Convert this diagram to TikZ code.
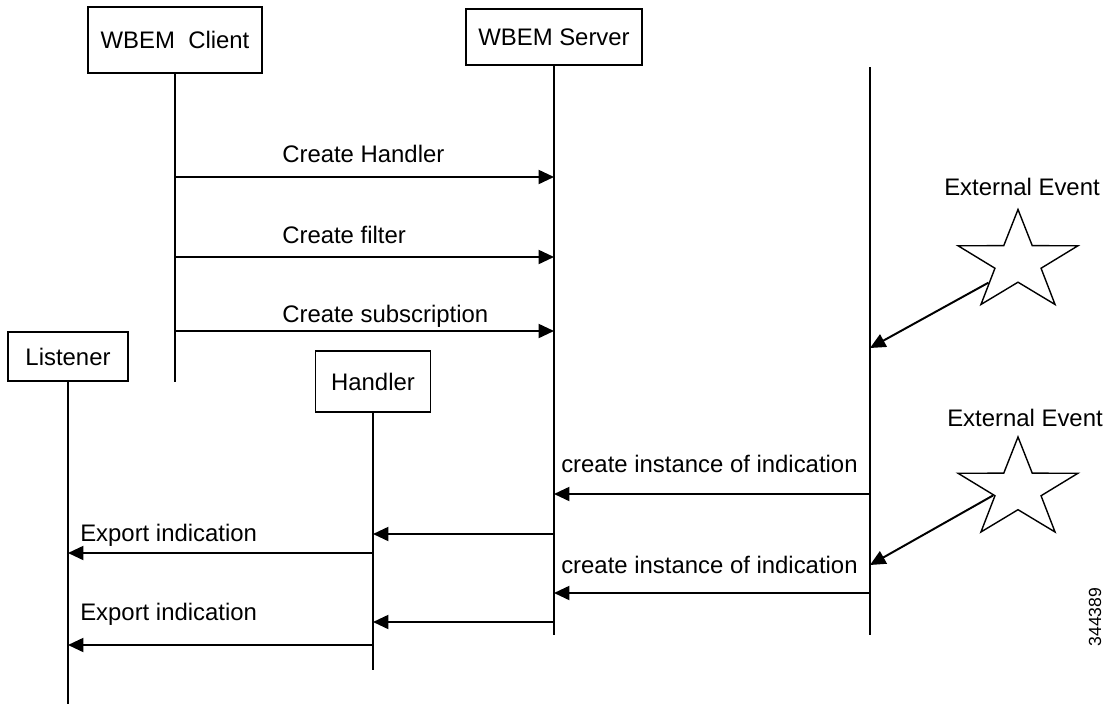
\documentclass[tikz,border=0pt]{standalone}
\usepackage{fontspec}
\setmainfont{Liberation Sans}
\usetikzlibrary{shapes.geometric, arrows.meta}
\begin{document}
\begin{tikzpicture}[x=0.025cm, y=-0.025cm,
    box/.style={draw, line width=1.3pt, inner sep=0pt},
    life/.style={line width=1pt},
    msg/.style={line width=1.4pt, -{Triangle[length=11pt,width=10pt]}},
    lbl/.style={anchor=base west, inner sep=0pt},
    event/.style={star, star points=5, star point ratio=2.6, draw, line width=1pt, minimum size=2.625cm, inner sep=0pt, transform shape},
    font=\fontsize{17}{20}\selectfont
	]
		\useasboundingbox (0,0) rectangle (1114,704);

		\node[box, minimum width=4.35cm, minimum height=1.65cm] (A) at (175,40) {WBEM\ \ Client};
		\node[box, minimum width=4.4cm, minimum height=1.4cm] (B) at (554,37) {WBEM Server};
		\node[box, minimum width=3cm, minimum height=1.225cm] (L) at (68,356.5) {Listener};
		\node[box, minimum width=2.875cm, minimum height=1.525cm] (H) at (373,381.5) {Handler};

		\coordinate (Ae) at (175,382);
		\coordinate (Be) at (554,635);
		\coordinate (Le) at (68,704);
		\coordinate (He) at (373,670);
		\coordinate (E) at (870,67);
		\coordinate (Ee) at (870,635);

		\draw[life] (A) -- (Ae);
		\draw[life] (B) -- (Be);
		\draw[life] (L) -- (Le);
		\draw[life] (H) -- (He);
		\draw[life] (E) -- (Ee);

		\begin{scope}[shift={(1018,262)}, xscale=1.2]
			\node[event] (X1) at (0,0) {};
		\end{scope}
		\begin{scope}[shift={(1018,489.5)}, xscale=1.2]
			\node[event] (X2) at (0,0) {};
		\end{scope}
		\node[lbl] (x1) at (944,195) {External Event};
		\node[lbl] (x2) at (947,426) {External Event};

		\coordinate (r1) at (0,177);
		\coordinate (r2) at (0,257);
		\coordinate (r3) at (0,331);
		\coordinate (s1) at (0,348);
		\coordinate (r4) at (0,494);
		\coordinate (r5) at (0,534);
		\coordinate (r6) at (0,553);
		\coordinate (s2) at (0,565);
		\coordinate (r7) at (0,593);
		\coordinate (r8) at (0,622);
		\coordinate (r9) at (0,645);

		\draw[msg] (A |- r1) -- (B |- r1);
		\node[lbl] (t1) at (282,162) {Create Handler};
		\draw[msg] (A |- r2) -- (B |- r2);
		\node[lbl] (t2) at (282,243) {Create filter};
		\draw[msg] (A |- r3) -- (B |- r3);
		\node[lbl] (t3) at (282,322) {Create subscription};

		\draw[msg] (X1.220) -- (E |- s1);

		\draw[msg] (E |- r4) -- (B |- r4);
		\node[lbl] (t4) at (561,472) {create instance of indication};
		\draw[msg] (B |- r5) -- (H |- r5);
		\draw[msg] (H |- r6) -- (L |- r6);
		\node[lbl] (t6) at (80,541) {Export indication};

		\draw[msg] (X2.196) -- (E |- s2);

		\draw[msg] (E |- r7) -- (B |- r7);
		\node[lbl] (t7) at (561,573) {create instance of indication};
		\draw[msg] (B |- r8) -- (H |- r8);
		\draw[msg] (H |- r9) -- (L |- r9);
		\node[lbl] (t9) at (80,620) {Export indication};

		\node[rotate=90, font=\fontsize{12.5}{14}\selectfont] (N) at (1095,617) {344389};

	\end{tikzpicture}
\end{document}
